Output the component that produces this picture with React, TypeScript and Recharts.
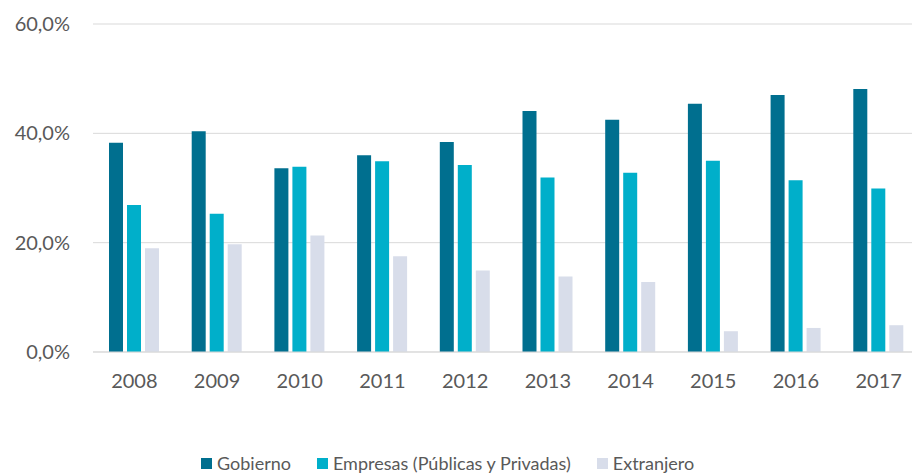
import { Bar, BarChart, CartesianGrid, Legend, XAxis, YAxis } from "recharts";

// Fuentes de financiamiento (% del total), 2008-2017.

const years = ["2008", "2009", "2010", "2011", "2012", "2013", "2014", "2015", "2016", "2017"];
const gobierno = [38.3, 40.4, 33.6, 36.0, 38.4, 44.1, 42.5, 45.4, 47.0, 48.1];
const empresas = [26.9, 25.3, 33.9, 34.9, 34.2, 31.9, 32.8, 35.0, 31.4, 29.9];
const extranjero = [19.0, 19.7, 21.3, 17.5, 14.9, 13.8, 12.8, 3.8, 4.4, 4.9];
const yTicks = [0, 20, 40, 60];

const series = [
  { key: "gobierno", name: "Gobierno", color: "#006F8F" },
  { key: "empresas", name: "Empresas (Públicas y Privadas)", color: "#00AFCA" },
  { key: "extranjero", name: "Extranjero", color: "#D8DDEA" },
];

const data = years.map((year, i) => ({
  year,
  gobierno: gobierno[i],
  empresas: empresas[i],
  extranjero: extranjero[i],
}));

const FONT = "Lato, 'Open Sans', sans-serif";
const TEXT = "#595959";

const fmt = (v: number) => `${v.toFixed(1).replace(".", ",")}%`;

function LegendRow() {
  return (
    <div style={{ display: "flex", alignItems: "center", height: 20, fontFamily: FONT, fontSize: 18, color: TEXT }}>
      {series.map((s) => (
        <div key={s.key} style={{ display: "flex", alignItems: "center", marginRight: 26 }}>
          <span style={{ width: 11, height: 11, background: s.color, marginRight: 5, display: "inline-block" }} />
          <span style={{ whiteSpace: "nowrap" }}>{s.name}</span>
        </div>
      ))}
    </div>
  );
}

export default function App() {
  return (
    <div style={{ position: "absolute", left: 0, top: 0, width: 912, height: 473, overflow: "hidden", background: "#fff" }}>
      <BarChart
        width={920}
        height={473}
        data={data}
        margin={{ top: 24, right: 0, left: 0, bottom: 0 }}
        barSize={14}
        barGap={4}
      >
        <CartesianGrid vertical={false} stroke="#D9D9D9" />
        <XAxis
          dataKey="year"
          height={101}
          axisLine={{ stroke: "#D9D9D9" }}
          tickLine={false}
          tickSize={0}
          tickMargin={22}
          tick={{ fill: TEXT, fontSize: 20, fontFamily: FONT }}
        />
        <YAxis
          width={93}
          domain={[0, 60]}
          ticks={yTicks}
          tickFormatter={fmt}
          axisLine={false}
          tickLine={false}
          tickSize={0}
          tickMargin={23}
          tick={{ fill: TEXT, fontSize: 20, fontFamily: FONT }}
        />
        <Legend
          verticalAlign="bottom"
          content={() => <LegendRow />}
          wrapperStyle={{ left: 201, top: 453, width: "auto" }}
        />
        {series.map((s) => (
          <Bar key={s.key} dataKey={s.key} name={s.name} fill={s.color} isAnimationActive={false} />
        ))}
      </BarChart>
    </div>
  );
}
